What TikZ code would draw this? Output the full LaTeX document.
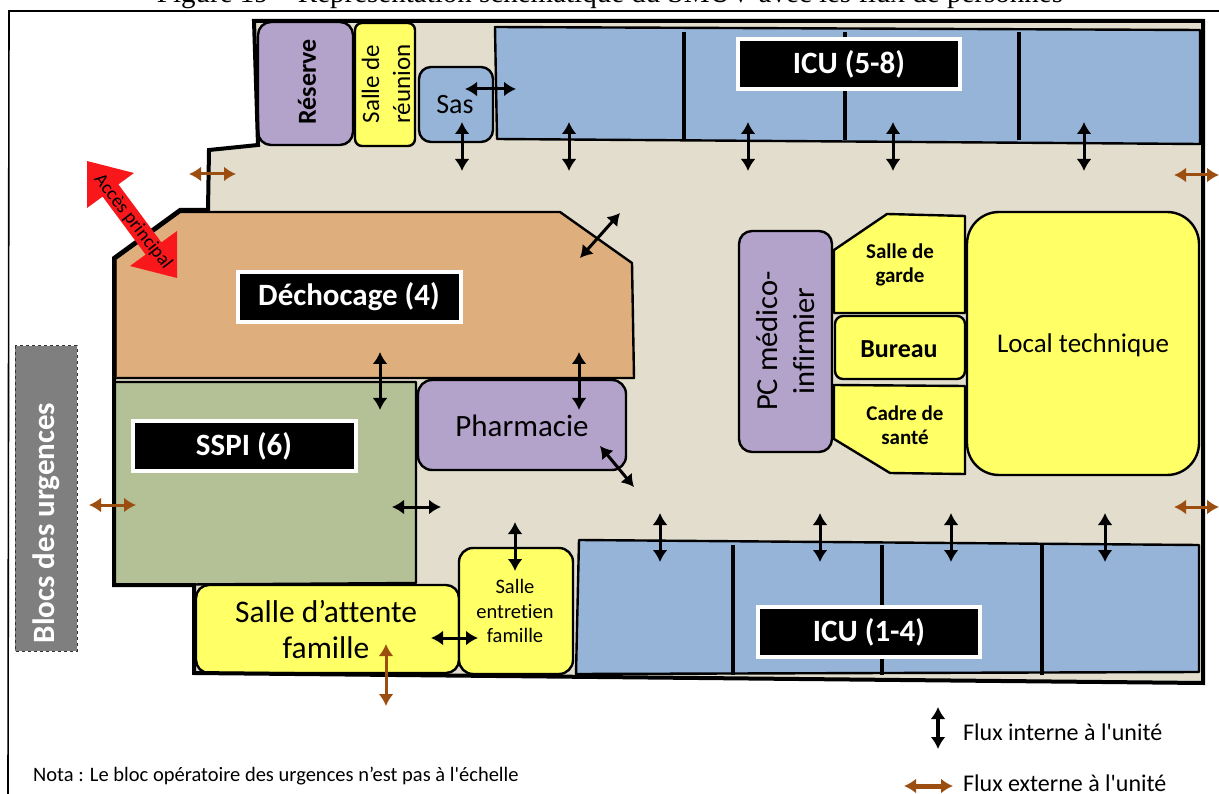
\documentclass[tikz,border=0pt]{standalone}
\usepackage{fontspec}
\newfontfamily\carl{Carlito}[Ligatures=NoCommon]
\newfontfamily\serifttl{Liberation Serif}
\usetikzlibrary{arrows.meta}
\definecolor{floor}{HTML}{E2DDCC}
\definecolor{bluer}{HTML}{95B4D8}
\definecolor{purpler}{HTML}{B3A2CA}
\definecolor{yellowr}{HTML}{FFFF66}
\definecolor{orange1}{HTML}{DEAE7C}
\definecolor{green1}{HTML}{B4C095}
\definecolor{brownf}{HTML}{9C4E10}
\definecolor{redf}{HTML}{F8181C}
\definecolor{greyb}{HTML}{7F7F7F}
\tikzset{
 wall/.style={draw=black,line width=4pt,line join=miter},
 room/.style={draw=black,line width=2.4pt,line join=round},
 rlabel/.style={text=black,align=center,inner sep=0pt},
 blackbox/.style={fill=black,draw=white,line width=4pt,text=white,font=\fontsize{31}{33}\selectfont\bfseries,anchor=center,minimum height=50pt,drop/.try},
 fint/.style={draw=black,line width=3pt,{Latex[length=12pt,width=15pt]}-{Latex[length=12pt,width=15pt]}},
 fext/.style={draw=brownf,line width=3pt,{Latex[length=12pt,width=15pt]}-{Latex[length=12pt,width=15pt]}},
}
\begin{document}
\begin{tikzpicture}[x=1pt,y=-1pt]
\carl
\useasboundingbox (0,0) rectangle (1219,794);
\fill[white] (0,0) rectangle (1219,794);
\node[font=\serifttl\fontsize{29}{31}\selectfont,anchor=base,inner sep=0pt] (title) at (610,3) {Figure 19 – Représentation schématique du SMUV avec les flux de personnes};
\draw[line width=1.6pt] (1219,11) -- (9,11) -- (8,794);
% floor
\path[fill=floor] (254,21) -- (1203,21) -- (1203,683) -- (194,673) -- (194,585) -- (114,585) -- (114,258) -- (180,210) -- (208,210) -- (209,150) -- (258,145) -- cycle;
% ICU top
\draw[room,fill=bluer] (495,27) -- (1200,30) -- (1200,144) -- (497,139) -- cycle;
\foreach \xx in {684,845,1019} \draw[line width=4.5pt] (\xx,32) -- (\xx,140);
% ICU bottom
\draw[room,fill=bluer] (579,540) -- (1199,545) -- (1199,672) -- (576,674) -- cycle;
\foreach \xx in {733,882,1042} \draw[line width=4.5pt] (\xx,545) -- (\xx,675);
% rooms
\draw[room,fill=purpler,rounded corners=13pt] (258,22) rectangle (353,145);
\draw[room,fill=yellowr,rounded corners=7pt] (355,23) rectangle (415,146);
\draw[room,fill=bluer,rounded corners=12pt] (419,67) rectangle (493,142);
% dechocage
\draw[room,fill=orange1] (114,260) -- (180,212) -- (560,212) -- (632,263) -- (634,378) -- (114,378) -- cycle;
\draw[line width=3.5pt,draw=black!60!brown] (115,260) -- (115,378);
% sspi
\draw[room,fill=green1] (114,382) -- (416,382) -- (416,583) -- (114,585) -- cycle;
% pharmacie
\draw[room,fill=purpler,rounded corners=14pt] (418,380) rectangle (626,470);
% PC
\draw[room,fill=purpler,rounded corners=13pt] (739,231) rectangle (832,452);
% small rooms
\draw[room,fill=yellowr] (834,250) -- (887,214) -- (965,216) -- (965,313) -- (834,313) -- cycle;
\draw[room,fill=yellowr,rounded corners=8pt] (835,316) rectangle (965,379);
\draw[room,fill=yellowr] (834,385) -- (965,386) -- (965,474) -- (890,473) -- (834,439) -- cycle;
\draw[room,fill=yellowr,rounded corners=32pt] (967,212) rectangle (1199,475);
% bottom
\draw[room,fill=yellowr,rounded corners=13pt] (196,585) rectangle (459,673);
\draw[room,fill=yellowr,rounded corners=14pt] (459,548) rectangle (573,674);
% outer wall
\draw[wall] (1203,21) -- (254,21) -- (258,145) -- (209,150) -- (208,210) -- (180,210) -- (114,258) -- (114,585) -- (194,585) -- (194,673) -- (1203,683) -- cycle;
% labels
\node[rlabel,rotate=90,font=\fontsize{26}{28}\selectfont\bfseries] (reserve) at (307,82) {Réserve};
\node[rlabel,rotate=90,font=\fontsize{25}{31}\selectfont] (reunion) at (386,84) {Salle de\\réunion};
\node[rlabel,font=\fontsize{28}{30}\selectfont] (sas) at (455,105) {Sas};
\node[rlabel,font=\fontsize{31}{33}\selectfont] (pharma) at (522,426) {Pharmacie};
\node[rlabel,rotate=90,font=\fontsize{30.5}{37}\selectfont] (pc) at (786,341) {PC médico-\\infirmier};
\node[rlabel,font=\fontsize{21}{24}\selectfont\bfseries] (garde) at (900,265) {Salle de\\garde};
\node[rlabel,font=\fontsize{26}{28}\selectfont\bfseries] (bureau) at (899,349) {Bureau};
\node[rlabel,font=\fontsize{21}{24}\selectfont\bfseries] (cadre) at (905,425) {Cadre de\\santé};
\node[rlabel,font=\fontsize{27}{29}\selectfont] (local) at (1083,345) {Local technique};
\node[rlabel,font=\fontsize{31.5}{36}\selectfont] (attente) at (326,630) {Salle d’attente\\famille};
\node[rlabel,font=\fontsize{20.5}{24.5}\selectfont] (entretien) at (515,611) {Salle\\entretien\\famille};
% black labels
\node[blackbox,minimum width=222pt] (icu58) at (849,64) {ICU (5-8)};
\node[blackbox,minimum width=223pt] (dech) at (349,297) {Déchocage (4)};
\node[blackbox,minimum width=223pt] (sspi) at (244,446) {SSPI (6)};
\node[blackbox,minimum width=222pt] (icu14) at (869,632) {ICU (1-4)};
% Blocs
\draw[fill=greyb,draw=black!80,dashed,line width=1pt] (15,346) rectangle (77,651);
\node[rotate=90,text=white,font=\fontsize{31}{33}\selectfont\bfseries,inner sep=0pt] (blocs) at (46,523) {Blocs des urgences};
% red access arrow
\fill[redf] (87,161) -- (134,173) -- (118.4,184.4) -- (161.4,242.4) -- (177,231) -- (177,278) -- (130,266) -- (145.6,254.6) -- (102.6,196.6) -- (87,208) -- cycle;
\node[rotate=-52,font=\fontsize{19}{21}\selectfont,inner sep=0pt] (acces) at (133,222) {Accès principal};
% internal arrows
\foreach \a/\b/\c/\d in {
 465/89/516/89, 462/122/462/171, 569/122/569/171, 748/122/748/171, 893/122/893/171, 1084/122/1084/171,
 620/213/580/258, 380/352/380/410, 579/352/579/410, 600/446/634/487, 392/507/441/507,
 660/513/660/562, 820/513/820/562, 951/513/951/562, 1105/513/1105/562,
 515/522/515/571, 431/638/478/638}
 {\coordinate (fa) at (\a,\b); \coordinate (fb) at (\c,\d); \draw[fint] (fa) -- (fb);}
% external arrows
\foreach \a/\b/\c/\d in {
 189/174/236/174, 1174/175/1219/175, 89/505/136/505, 1174/507/1219/507, 386/644/386/706}
 {\coordinate (fa) at (\a,\b); \coordinate (fb) at (\c,\d); \draw[fext] (fa) -- (fb);}
% legend
\coordinate (l1a) at (938,707);
\coordinate (l1b) at (938,749);
\draw[fint,line width=4pt] (l1a) -- (l1b);
\node[anchor=west,font=\fontsize{24}{26}\selectfont,inner sep=0pt] (lint) at (963,732) {Flux interne à l'unité};
\coordinate (l2a) at (904,786);
\coordinate (l2b) at (953,786);
\draw[fext,line width=5pt] (l2a) -- (l2b);
\node[anchor=west,font=\fontsize{24}{26}\selectfont,inner sep=0pt] (lext) at (963,783) {Flux externe à l'unité};
\node[anchor=west,font=\fontsize{20.5}{22}\selectfont,inner sep=0pt] (nota) at (33,776) {Nota : Le bloc opératoire des urgences n’est pas à l'échelle};
\end{tikzpicture}
\end{document}
